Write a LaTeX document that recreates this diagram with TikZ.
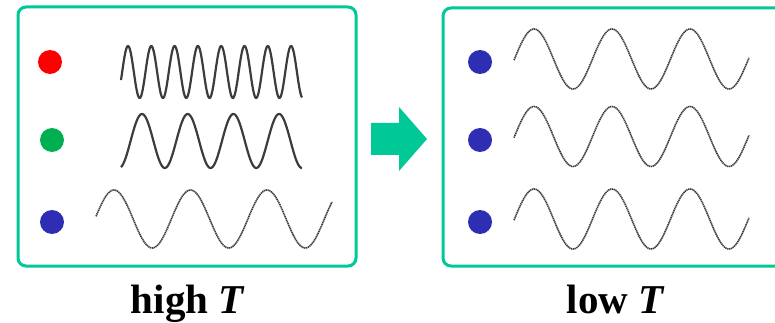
\documentclass[tikz,border=0pt]{standalone}
\usepackage{fontspec}
\setmainfont{Liberation Serif}
\definecolor{frame}{RGB}{0,200,150}
\definecolor{dotred}{RGB}{255,0,0}
\definecolor{dotgreen}{RGB}{0,176,80}
\definecolor{dotblue}{RGB}{46,46,180}
\definecolor{wavegray}{RGB}{60,60,60}
\tikzset{
  panel/.style={draw=frame, line width=3pt, rounded corners=8pt, inner sep=0pt, fill=white},
  particle/.style={circle, inner sep=0pt, minimum size=24pt},
  solidwave/.style={draw=wavegray, line width=2.2pt, line join=round},
  dotwave/.style={draw=wavegray, line width=1.6pt, dash pattern=on 1.3pt off 0.6pt},
  caption/.style={font=\fontsize{41}{41}\selectfont\bfseries, inner sep=0pt, anchor=base},
}
\begin{document}
\begin{tikzpicture}[x=1pt,y=-1pt]
\useasboundingbox (0,0) rectangle (775,323);
\clip (0,0) rectangle (775,323);
% panels
\node[panel, minimum width=338pt, minimum height=259pt] (lbox) at (187,136.5) {};
\node[panel, minimum width=346pt, minimum height=258pt] (rbox) at (616,137) {};
% left particles
\node[particle, fill=dotred] (lr) at (50,62) {};
\node[particle, fill=dotgreen] (lg) at (52,140) {};
\node[particle, fill=dotblue] (lb) at (52,222) {};
% right particles
\node[particle, fill=dotblue] (r1) at (480,62) {};
\node[particle, fill=dotblue] (r2) at (480,140) {};
\node[particle, fill=dotblue] (r3) at (480,222) {};
% left waves
\draw[solidwave] plot[domain=121:302, samples=300] (\x, {72-26*cos((\x-128)*15.4506)});
\draw[solidwave] plot[domain=121:302, samples=200] (\x, {141-27*cos((\x-142)*7.8775)});
\draw[dotwave] plot[domain=96:332, samples=200] (\x, {219-29*cos((\x-114)*4.7059)});
% right waves
\draw[dotwave] plot[domain=514:749, samples=200] (\x, {59-30*cos((\x-534)*4.6154)});
\draw[dotwave] plot[domain=514:749, samples=200] (\x, {136.5-30*cos((\x-534)*4.6154)});
\draw[dotwave] plot[domain=514:749, samples=200] (\x, {219-30*cos((\x-534)*4.6154)});
% block arrow
\coordinate (a0) at (371,123);
\fill[frame] (a0) -- (399,123) -- (399,107) -- (427,139) -- (399,171) -- (399,155) -- (371,155) -- cycle;
% captions
\node[caption] (lcap) at (188,313) {high \textit{T}};
\node[caption] (rcap) at (616,313) {low \textit{T}};
\end{tikzpicture}
\end{document}
